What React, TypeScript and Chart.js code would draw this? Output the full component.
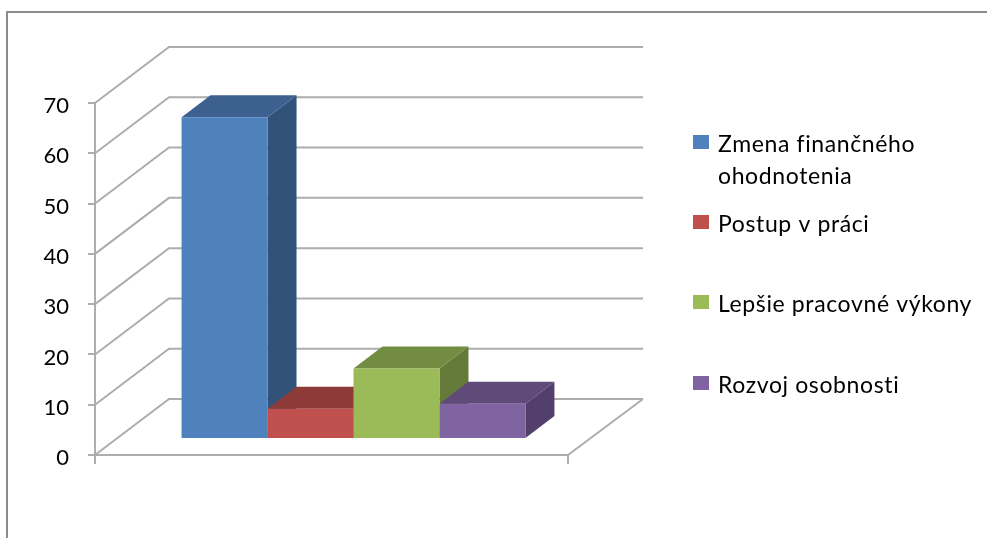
import { useEffect, useRef } from "react";
import { Chart, registerables } from "chart.js";

Chart.register(...registerables);

const categories = [""];
const seriesNames = ["Zmena finančného ohodnotenia", "Postup v práci", "Lepšie pracovné výkony", "Rozvoj osobnosti"];
const legendLines = [["Zmena finančného", "ohodnotenia"], ["Postup v práci"], ["Lepšie pracovné výkony"], ["Rozvoj osobnosti"]];
const seriesValues = [64, 6, 14, 7];
const frontColors = ["#4f81bd", "#c0504d", "#9bbb59", "#8064a2"];
const topColors = ["#3c6191", "#8e3a38", "#728c42", "#5f4a7a"];
const sideColors = ["#325379", "#7a3230", "#637a39", "#523f6b"];

const FONT = "Lato";
const LINE = "#adadad";

// Oblique projection of the depth axis: the full floor depth, the plane of the
// bars' front faces, and the depth of one bar.
const WALL = { dx: 75, dy: -56 };
const BAR_PLANE = { dx: 22, dy: -16 };
const BAR_DEPTH = { dx: 29, dy: -22 };

function poly(ctx: CanvasRenderingContext2D, pts: number[][], fill: string) {
  ctx.beginPath();
  pts.forEach(([x, y], i) => (i ? ctx.lineTo(x, y) : ctx.moveTo(x, y)));
  ctx.closePath();
  ctx.fillStyle = fill;
  ctx.fill();
}

// Outer frame, back wall, side wall and floor.
const framePlugin = {
  id: "frame3d",
  beforeDraw(chart: any) {
    const { ctx } = chart;
    ctx.save();
    ctx.strokeStyle = "#8c8c8c";
    ctx.lineWidth = 2;
    ctx.beginPath();
    ctx.moveTo(7, 538);
    ctx.lineTo(7, 12);
    ctx.lineTo(987, 12);
    ctx.stroke();
    ctx.restore();
  },
  beforeDatasetsDraw(chart: any) {
    const { ctx, chartArea } = chart;
    const y = chart.scales.y;
    ctx.save();
    ctx.strokeStyle = LINE;
    ctx.lineWidth = 2;
    for (const t of y.ticks) {
      const py = y.getPixelForValue(t.value);
      ctx.beginPath();
      ctx.moveTo(chartArea.left, py);
      ctx.lineTo(chartArea.left + WALL.dx - 1, py + WALL.dy);
      ctx.lineTo(chartArea.right + WALL.dx, py + WALL.dy);
      ctx.stroke();
    }
    const py0 = y.getPixelForValue(0);
    ctx.beginPath();
    ctx.moveTo(chartArea.right, py0);
    ctx.lineTo(chartArea.right + WALL.dx, py0 + WALL.dy);
    ctx.stroke();

    // Top and side faces go underneath the native bars, which act as front faces.
    chart.data.datasets.forEach((_: any, i: number) => {
      const bar = chart.getDatasetMeta(i).data[0];
      const { x, y: top, base, width } = bar.getProps(["x", "y", "base", "width"], true);
      const l = x - width / 2 + BAR_PLANE.dx;
      const r = x + width / 2 + BAR_PLANE.dx;
      const t = top + BAR_PLANE.dy;
      const b = base + BAR_PLANE.dy;
      const { dx, dy } = BAR_DEPTH;
      poly(ctx, [[r, t], [r + dx, t + dy], [r + dx, b + dy], [r, b]], sideColors[i]);
      poly(ctx, [[l, t], [l + dx, t + dy], [r + dx, t + dy], [r, t]], topColors[i]);
    });
    ctx.restore();

    ctx.save();
    ctx.translate(BAR_PLANE.dx, BAR_PLANE.dy);
  },
  afterDatasetsDraw(chart: any) {
    chart.ctx.restore();
  },
};

// Right-hand key with fixed row spacing; the first entry wraps over two lines.
const keyPlugin = {
  id: "key3d",
  afterDraw(chart: any) {
    const { ctx } = chart;
    const rows = [135, 215, 295, 376];
    ctx.save();
    ctx.textBaseline = "alphabetic";
    ctx.textAlign = "left";
    ctx.font = `23px ${FONT}`;
    (ctx as any).letterSpacing = "0.62px";
    chart.data.datasets.forEach((ds: any, i: number) => {
      ctx.fillStyle = ds.backgroundColor;
      ctx.fillRect(693, rows[i], 16, 14);
      ctx.fillStyle = "#000000";
      legendLines[i].forEach((line, j) => {
        ctx.fillText(line, 718, rows[i] + 17 + j * 32);
      });
    });
    ctx.restore();
  },
};

export default function App() {
  const ref = useRef<HTMLCanvasElement>(null);
  useEffect(() => {
    const chart = new Chart(ref.current!, {
      type: "bar",
      data: {
        labels: categories,
        datasets: seriesNames.map((label, i) => ({
          label,
          data: [seriesValues[i]],
          backgroundColor: frontColors[i],
          borderWidth: 0,
          clip: false as any,
        })),
      },
      options: {
        responsive: false,
        animation: false,
        events: [],
        categoryPercentage: 0.727,
        barPercentage: 1,
        layout: { padding: { left: 0, right: 419, top: 103, bottom: 83 } },
        plugins: { legend: { display: false }, tooltip: { enabled: false }, title: { display: false } },
        scales: {
          x: {
            grid: { display: true, offset: true, drawOnChartArea: false, drawTicks: true, tickLength: 9, color: LINE, lineWidth: 2 },
            border: { display: true, color: LINE, width: 2 },
            ticks: { display: false },
            afterFit: (s: any) => { s.height = 0; },
          },
          y: {
            min: 0,
            max: 70,
            grid: { display: true, drawOnChartArea: false, drawTicks: true, tickLength: 7, color: LINE, lineWidth: 2 },
            border: { display: true, color: LINE, width: 2 },
            ticks: { stepSize: 10, color: "#000000", padding: 19, labelOffset: 3, font: { family: FONT, size: 22 } },
            afterFit: (s: any) => { s.width = 95; },
          },
        },
      } as any,
      plugins: [framePlugin, keyPlugin],
    });
    return () => chart.destroy();
  }, []);
  return (
    <canvas
      ref={ref}
      width={987}
      height={538}
      style={{ position: "absolute", left: 0, top: 0, width: 987, height: 538, background: "#ffffff" }}
    />
  );
}
